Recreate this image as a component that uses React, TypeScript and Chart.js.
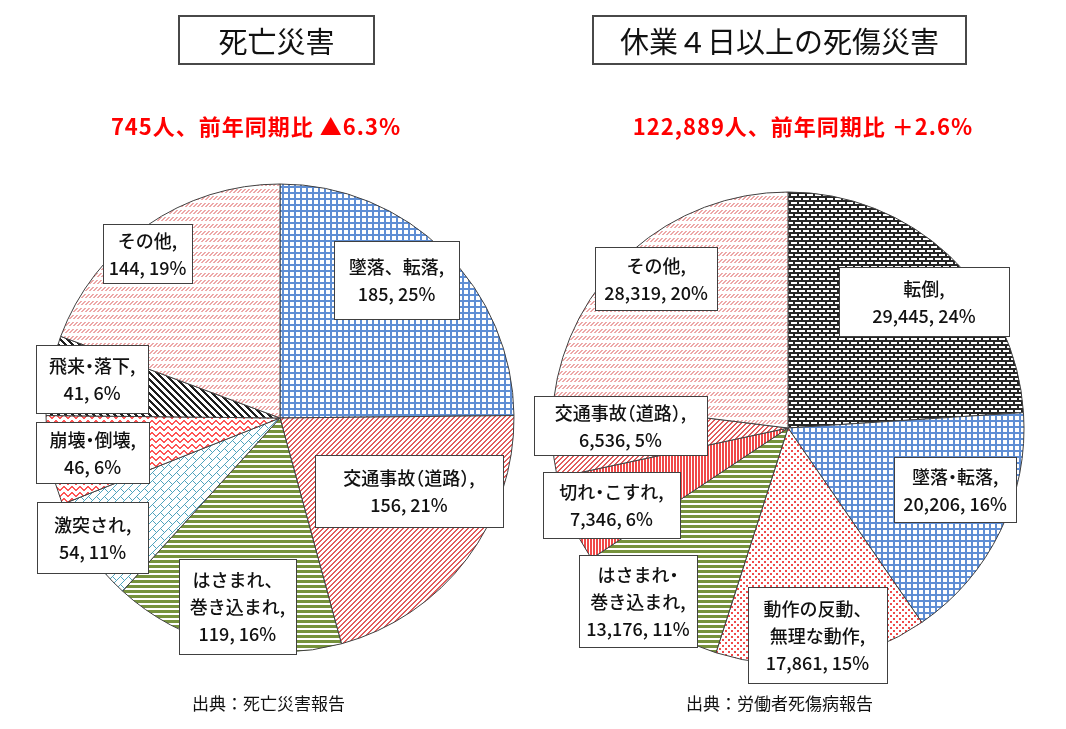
import React, { useEffect, useRef } from "react";
import { Chart, registerables } from "chart.js";
Chart.register(...registerables);

// ---------- Data ----------
const leftCategories = ["墜落、転落", "交通事故（道路）", "はさまれ、巻き込まれ", "激突され", "崩壊・倒壊", "飛来・落下", "その他"];
const leftValues = [185, 156, 119, 54, 46, 41, 144];
const leftPercents = [25, 21, 16, 11, 6, 6, 19];
const leftNameLines = [["墜落、転落,"], ["交通事故（道路）,"], ["はさまれ、", "巻き込まれ,"], ["激突され,"], ["崩壊・倒壊,"], ["飛来・落下,"], ["その他,"]];

const rightCategories = ["転倒", "墜落・転落", "動作の反動、無理な動作", "はさまれ・巻き込まれ", "切れ・こすれ", "交通事故（道路）", "その他"];
const rightValues = [29445, 20206, 17861, 13176, 7346, 6536, 28319];
const rightPercents = [24, 16, 15, 11, 6, 5, 20];
const rightNameLines = [["転倒,"], ["墜落・転落,"], ["動作の反動、", "無理な動作,"], ["はさまれ・", "巻き込まれ,"], ["切れ・こすれ,"], ["交通事故（道路）,"], ["その他,"]];

const leftTitle = "死亡災害";
const rightTitle = "休業４日以上の死傷災害";
const leftSubtitle = "745人、前年同期比 ▲6.3%";
const rightSubtitle = "122,889人、前年同期比 ＋2.6%";
const leftSource = "出典：死亡災害報告";
const rightSource = "出典：労働者死傷病報告";

// ---------- Layout (label box centre as fraction of radius, box size px) ----------
const leftLabelLayout = [
  { fx: 0.498, fy: -0.59, w: 125, h: 78 },
  { fx: 0.551, fy: 0.312, w: 188, h: 72 },
  { fx: -0.182, fy: 0.806, w: 117, h: 95 },
  { fx: -0.801, fy: 0.511, w: 111, h: 71 },
  { fx: -0.801, fy: 0.147, w: 113, h: 61 },
  { fx: -0.803, fy: -0.167, w: 112, h: 68 },
  { fx: -0.566, fy: -0.703, w: 89, h: 59 },
];
const rightLabelLayout = [
  { fx: 0.576, fy: -0.536, w: 170, h: 69 },
  { fx: 0.708, fy: 0.261, w: 122, h: 65 },
  { fx: 0.125, fy: 0.877, w: 139, h: 96 },
  { fx: -0.636, fy: 0.733, w: 118, h: 92 },
  { fx: -0.748, fy: 0.326, w: 137, h: 66 },
  { fx: -0.71, fy: -0.011, w: 173, h: 59 },
  { fx: -0.559, fy: -0.633, w: 122, h: 63 },
];

const FONT = '"Noto Sans CJK JP", "Noto Sans", sans-serif';

// ---------- Patterns ----------
function makePattern(w: number, h: number, fn: (x: number, y: number) => string | null): CanvasPattern | string {
  const c = document.createElement("canvas");
  c.width = w;
  c.height = h;
  const ctx = c.getContext("2d");
  if (!ctx) return "#ccc";
  ctx.fillStyle = "#ffffff";
  ctx.fillRect(0, 0, w, h);
  for (let y = 0; y < h; y++) {
    for (let x = 0; x < w; x++) {
      const col = fn(x, y);
      if (col) {
        ctx.fillStyle = col;
        ctx.fillRect(x, y, 1, 1);
      }
    }
  }
  const p = ctx.createPattern(c, "repeat");
  return p || "#ccc";
}

function buildPatterns() {
  const blue = "#5F8ED4";
  const red = "#E25C5C";
  const green = "#76923C";
  const teal = "#4FA3BD";
  const pink = "#EDA8A8";
  const gridBlue = makePattern(6, 6, (x, y) => (x < 2 || y < 2 ? blue : null));
  const diagRed = makePattern(5, 5, (x, y) => ((x + y) % 5 < 2 ? red : null));
  const greenH = makePattern(1, 5, (_x, y) => (y < 3 ? green : null));
  const brickTeal = makePattern(16, 16, (x, y) => {
    const s = (x + y) % 16;
    const d = (x - y + 32) % 16;
    if ((x + y) % 8 === 0) return teal;
    if (d === 0 && s < 8) return teal;
    if (d === 8 && s >= 8) return teal;
    return null;
  });
  const tri = [0, 1, 2, 3, 3, 2, 1, 0];
  const waveRed = makePattern(8, 6, (x, y) => (((y - tri[x] + 12) % 6) < 2 ? "#FF5555" : null));
  const blackDiag = makePattern(7, 7, (x, y) => ((x - y + 14) % 7 < 3 ? "#1E1E1E" : null));
  const pinkDash = makePattern(4, 7, (x, y) => (y % 7 < 4 && (x + y) % 4 < 2 ? pink : null));
  const brickBlack = makePattern(8, 8, (x, y) => {
    const dk = "#262626";
    if (y % 4 < 2) return dk;
    if (y < 4 && x < 2) return dk;
    if (y >= 4 && (x === 4 || x === 5)) return dk;
    return null;
  });
  const dotsRed = makePattern(6, 6, (x, y) =>
    (x < 2 && y < 2) || (x >= 3 && x < 5 && y >= 3 && y < 5) ? "#F04A4A" : null
  );
  const vertRed = makePattern(3, 1, (x) => (x < 2 ? "#F04848" : null));
  return { gridBlue, diagRed, greenH, brickTeal, waveRed, blackDiag, pinkDash, brickBlack, dotsRed, vertRed };
}

// ---------- proportional text (palt-like) ----------
const LEFT_HALF = "）";
const RIGHT_HALF = "（";
const MID_HALF = "・";
function charAdvance(ctx: CanvasRenderingContext2D, ch: string) {
  const w = ctx.measureText(ch).width;
  if (LEFT_HALF.includes(ch) || RIGHT_HALF.includes(ch) || MID_HALF.includes(ch)) return w * 0.5;
  return w;
}
function drawProportional(ctx: CanvasRenderingContext2D, text: string, cx: number, y: number) {
  const chars = Array.from(text);
  const total = chars.reduce((s, ch) => s + charAdvance(ctx, ch), 0);
  let x = cx - total / 2;
  ctx.textAlign = "left";
  chars.forEach((ch) => {
    const w = ctx.measureText(ch).width;
    let dx = 0;
    if (RIGHT_HALF.includes(ch)) dx = -w * 0.5;
    else if (MID_HALF.includes(ch)) dx = -w * 0.25;
    ctx.fillText(ch, x + dx, y);
    x += charAdvance(ctx, ch);
  });
}

// ---------- Label plugin ----------
function labelPlugin(nameLines: string[][], values: number[], percents: number[], layout: { fx: number; fy: number; w: number; h: number }[]) {
  return {
    id: "boxLabels",
    afterDatasetsDraw(chart: any) {
      const meta = chart.getDatasetMeta(0);
      const arc0 = meta.data[0];
      if (!arc0) return;
      const cx = arc0.x;
      const cy = arc0.y;
      const r = arc0.outerRadius;
      const ctx: CanvasRenderingContext2D = chart.ctx;
      ctx.save();
      values.forEach((v, i) => {
        const L = layout[i];
        const bx = cx + L.fx * r;
        const by = cy + L.fy * r;
        const x0 = Math.round(bx - L.w / 2) + 0.5;
        const y0 = Math.round(by - L.h / 2) + 0.5;
        ctx.fillStyle = "#ffffff";
        ctx.fillRect(x0, y0, L.w, L.h);
        ctx.strokeStyle = "#404040";
        ctx.lineWidth = 1;
        ctx.strokeRect(x0, y0, L.w, L.h);
        const lines = [...nameLines[i], `${v.toLocaleString("en-US")}, ${percents[i]}%`];
        const lh = 27;
        ctx.fillStyle = "#111111";
        ctx.font = `500 18px ${FONT}`;
        ctx.textBaseline = "middle";
        const startY = by - ((lines.length - 1) * lh) / 2;
        lines.forEach((t, k) => drawProportional(ctx, t, bx, startY + k * lh + 1));
      });
      ctx.restore();
    },
  };
}

function PieCanvas(props: {
  labels: string[];
  values: number[];
  plugin: any;
  padding: { left: number; right: number; top: number; bottom: number };
  left: number;
  which: "L" | "R";
}) {
  const ref = useRef<HTMLCanvasElement | null>(null);
  useEffect(() => {
    if (!ref.current) return;
    const p = buildPatterns();
    const colors =
      props.which === "L"
        ? [p.gridBlue, p.diagRed, p.greenH, p.brickTeal, p.waveRed, p.blackDiag, p.pinkDash]
        : [p.brickBlack, p.gridBlue, p.dotsRed, p.greenH, p.vertRed, p.diagRed, p.pinkDash];
    const chart = new Chart(ref.current, {
      type: "pie",
      data: {
        labels: props.labels,
        datasets: [
          {
            data: props.values,
            backgroundColor: colors as any,
            borderColor: "#404040",
            borderWidth: 1,
          },
        ],
      },
      options: {
        responsive: false,
        animation: false,
        devicePixelRatio: 1,
        layout: { padding: props.padding },
        plugins: { legend: { display: false }, tooltip: { enabled: false }, title: { display: false } },
      },
      plugins: [props.plugin],
    });
    return () => chart.destroy();
  }, []);
  return <canvas ref={ref} width={533} height={729} style={{ position: "absolute", left: props.left, top: 0 }} />;
}

export default function App() {
  useEffect(() => {
    document.body.style.margin = "0";
  }, []);
  const titleBox = (left: number, width: number, text: string) => (
    <div
      style={{
        position: "absolute",
        left,
        top: 15,
        width,
        height: 50,
        boxSizing: "border-box",
        border: "2px solid #484848",
        display: "flex",
        alignItems: "center",
        justifyContent: "center",
        fontSize: 29,
        color: "#111",
        fontFamily: FONT,
        whiteSpace: "nowrap",
      }}
    >
      {text}
    </div>
  );
  const subtitle = (cx: number, text: string) => (
    <div
      style={{
        position: "absolute",
        left: cx,
        top: 112,
        transform: "translateX(-50%)",
        fontSize: 22,
        lineHeight: "26px",
        fontWeight: 700,
        color: "#FF0000",
        fontFamily: FONT,
        whiteSpace: "nowrap",
        letterSpacing: 1,
      }}
    >
      {text}
    </div>
  );
  const source = (left: number, text: string) => (
    <div
      style={{
        position: "absolute",
        left,
        top: 692,
        fontSize: 17,
        lineHeight: "22px",
        color: "#111",
        fontFamily: FONT,
        whiteSpace: "nowrap",
      }}
    >
      {text}
    </div>
  );
  return (
    <div style={{ position: "relative", width: 1066, height: 729, background: "#fff", overflow: "hidden" }}>
      <PieCanvas
        which="L"
        labels={leftCategories}
        values={leftValues}
        plugin={labelPlugin(leftNameLines, leftValues, leftPercents, leftLabelLayout)}
        padding={{ left: 45.5, right: 18.5, top: 183.5, bottom: 76.5 }}
        left={0}
      />
      <PieCanvas
        which="R"
        labels={rightCategories}
        values={rightValues}
        plugin={labelPlugin(rightNameLines, rightValues, rightPercents, rightLabelLayout)}
        padding={{ left: 18.5, right: 41.5, top: 191.5, bottom: 64.5 }}
        left={533}
      />
      {titleBox(178, 197, leftTitle)}
      {titleBox(592, 375, rightTitle)}
      {subtitle(256, leftSubtitle)}
      {subtitle(803, rightSubtitle)}
      {source(192, leftSource)}
      {source(686, rightSource)}
    </div>
  );
}
